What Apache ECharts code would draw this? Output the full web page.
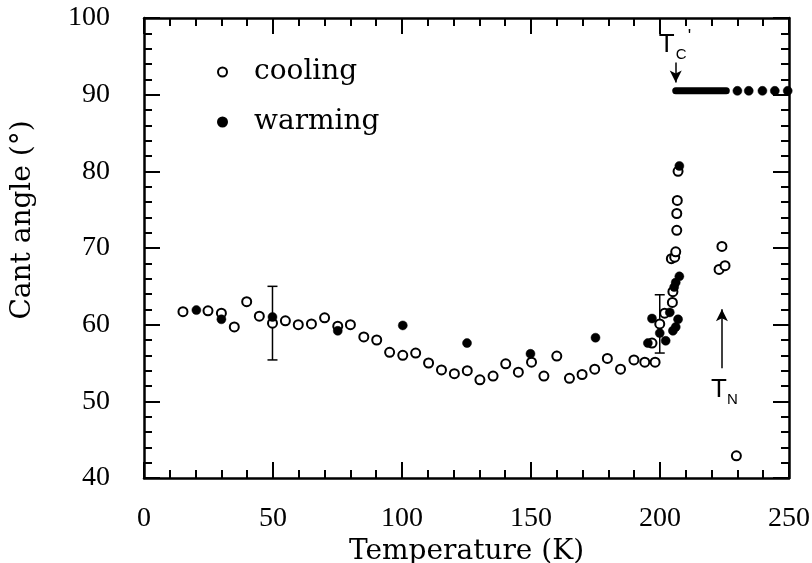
<!DOCTYPE html>
<html><head><meta charset="utf-8">
<script src="https://cdn.jsdelivr.net/npm/echarts@6/dist/echarts.min.js"></script>
<style>html,body{margin:0;padding:0;background:#fff}#c{width:812px;height:563px}</style>
</head><body><div id="c"></div>
<script>
// ---- data ----
const coolingT = [15.1,24.8,30.0,35.0,39.8,44.7,49.8,54.8,59.8,64.9,70.0,75.1,80.0,85.2,90.2,95.2,100.3,105.3,
  110.3,115.3,120.3,125.3,130.2,135.3,140.2,145.1,150.2,155.0,160.0,164.9,169.8,174.7,179.6,184.7,189.9,194.1,
  196.9,198.1,199.9,201.8,204.8,205.0,204.4,205.7,206.1,206.5,206.5,206.7,207.0,222.9,224.0,225.2,229.6];
const coolingAngle = [61.7,61.8,61.5,59.7,63.0,61.1,60.2,60.5,60.0,60.1,60.9,59.8,60.0,58.4,58.0,56.4,56.0,56.3,
  55.0,54.1,53.6,54.0,52.8,53.3,54.9,53.8,55.1,53.3,55.9,53.0,53.5,54.2,55.6,54.2,55.4,55.1,
  57.6,55.1,60.1,61.5,62.9,64.3,68.6,68.8,69.5,72.3,74.5,76.2,80.0,67.2,70.2,67.7,42.9];
const warmingT = [20.3,30.0,49.8,75.1,100.3,125.2,149.8,175.0,195.3,196.9,199.9,202.2,203.8,205.0,205.5,206.1,
  206.1,207.0,207.5,207.5,230.0,234.4,239.7,244.5,249.5];
const warmingAngle = [61.9,60.7,61.0,59.2,59.9,57.6,56.2,58.3,57.6,60.8,58.9,57.9,61.6,59.2,64.9,59.7,
  65.5,60.7,66.3,80.7,90.5,90.5,90.5,90.5,90.5];
const plateauT = [206.1, 225.7];
const plateauAngle = [90.5, 90.5];
const errT = [49.8, 199.9];
const errLow = [55.4, 56.3];
const errHigh = [65.0, 63.9];
const xTickValues = [0, 50, 100, 150, 200, 250];
const yTickValues = [40, 50, 60, 70, 80, 90, 100];
const seriesNames = ['cooling', 'warming'];
const xTitle = 'Temperature (K)';
const yTitle = 'Cant angle (°)';
// annotation anchors (data coordinates)
const tcArrow = {t: 206.1, from: 94.2, to: 91.6};
const tnArrow = {t: 224.0, from: 54.3, to: 62.0};

const zip = (a, b) => a.map((v, i) => [v, b[i]]);
const chart = echarts.init(document.getElementById('c'), null, {renderer: 'canvas'});

const tickCommon = {
  axisLine: {show: true, onZero: false, lineStyle: {color: '#000', width: 2.5}},
  axisTick: {show: true, inside: true, length: 16, lineStyle: {color: '#000', width: 2}},
  minorTick: {show: true, splitNumber: 5, length: 8, lineStyle: {color: '#000', width: 2}},
  splitLine: {show: false}, minorSplitLine: {show: false}
};
const xBase = {type: 'value', min: xTickValues[0], max: xTickValues[xTickValues.length-1], interval: 50};
const yBase = {type: 'value', min: yTickValues[0], max: yTickValues[yTickValues.length-1], interval: 10};
const serif = 'DejaVu Serif';

chart.setOption({
  animation: false,
  backgroundColor: '#fff',
  grid: {left: 144, right: 23, top: 18, bottom: 85, containLabel: false, outerBoundsMode: 'none'},
  legend: {
    data: seriesNames, orient: 'vertical', left: 212, top: 52, itemWidth: 9, itemHeight: 9, itemGap: 20,
    textStyle: {fontFamily: serif, fontSize: 28, color: '#000', padding: [0, 0, 0, 22], lineHeight: 30}
  },
  xAxis: [
    Object.assign({}, xBase, tickCommon, {position: 'bottom',
      axisLabel: {show: true, margin: 27, fontFamily: 'Liberation Serif', fontSize: 28, color: '#000'},
      name: xTitle, nameLocation: 'middle', nameGap: 46,
      nameTextStyle: {fontFamily: serif, fontSize: 28, color: '#000'}}),
    Object.assign({}, xBase, tickCommon, {position: 'top', axisLabel: {show: false}})
  ],
  yAxis: [
    Object.assign({}, yBase, tickCommon, {position: 'left',
      axisLabel: {show: true, margin: 34, fontFamily: 'Liberation Serif', fontSize: 28, color: '#000'}}),
    Object.assign({}, yBase, tickCommon, {position: 'right', axisLabel: {show: false}})
  ],
  series: [
    {
      type: 'custom', name: 'errors', silent: true, z: 2,
      data: errT.map((t, i) => [t, errLow[i], errHigh[i]]),
      encode: {x: 0, y: [1, 2]},
      renderItem: function (params, api) {
        const lo = api.coord([api.value(0), api.value(1)]);
        const hi = api.coord([api.value(0), api.value(2)]);
        const w = 5, st = {stroke: '#000', lineWidth: 1.5};
        return {type: 'group', children: [
          {type: 'line', shape: {x1: lo[0], y1: lo[1], x2: hi[0], y2: hi[1]}, style: st},
          {type: 'line', shape: {x1: lo[0]-w, y1: lo[1], x2: lo[0]+w, y2: lo[1]}, style: st},
          {type: 'line', shape: {x1: hi[0]-w, y1: hi[1], x2: hi[0]+w, y2: hi[1]}, style: st}
        ]};
      }
    },
    {
      type: 'scatter', name: seriesNames[0], data: zip(coolingT, coolingAngle), symbol: 'circle', symbolSize: 9,
      itemStyle: {color: '#fff', borderColor: '#000', borderWidth: 2, opacity: 1}, z: 3
    },
    {
      type: 'scatter', name: seriesNames[1], data: zip(warmingT, warmingAngle), symbol: 'circle', symbolSize: 9,
      itemStyle: {color: '#000', borderColor: '#000', borderWidth: 0.5, opacity: 1}, z: 4
    },
    {
      type: 'line', name: 'plateau', data: zip(plateauT, plateauAngle), showSymbol: false, symbol: 'none',
      lineStyle: {color: '#000', width: 7, cap: 'round'}, z: 4, silent: true,
      markLine: {
        silent: true, symbol: ['none', 'arrow'], symbolSize: [9, 12],
        lineStyle: {color: '#000', width: 1.5, type: 'solid'}, label: {show: false},
        data: [
          [{coord: [tcArrow.t, tcArrow.from]}, {coord: [tcArrow.t, tcArrow.to]}],
          [{coord: [tnArrow.t, tnArrow.from]}, {coord: [tnArrow.t, tnArrow.to]}]
        ]
      }
    }
  ]
});

const tc = chart.convertToPixel({gridIndex: 0}, [tcArrow.t, tcArrow.from]);
const tn = chart.convertToPixel({gridIndex: 0}, [tnArrow.t, tnArrow.from]);
const sans = '"Liberation Sans"';
chart.setOption({
  graphic: [
    {type: 'text', x: 23, y: 220, rotation: Math.PI / 2,
      style: {text: yTitle, font: '28px "DejaVu Serif"', fill: '#000', textAlign: 'center', textVerticalAlign: 'middle'}},
    {type: 'text', x: tc[0] - 17, y: tc[1] - 31, style: {text: 'T', font: '26px ' + sans, fill: '#000', textVerticalAlign: 'top'}},
    {type: 'text', x: tc[0] + 0, y: tc[1] - 15, style: {text: 'C', font: '15px ' + sans, fill: '#000', textVerticalAlign: 'top'}},
    {type: 'text', x: tc[0] + 12, y: tc[1] - 34, style: {text: '\'', font: '18px ' + sans, fill: '#000', textVerticalAlign: 'top'}},
    {type: 'text', x: tn[0] - 11, y: tn[1] + 8, style: {text: 'T', font: '26px ' + sans, fill: '#000', textVerticalAlign: 'top'}},
    {type: 'text', x: tn[0] + 5, y: tn[1] + 24, style: {text: 'N', font: '15px ' + sans, fill: '#000', textVerticalAlign: 'top'}}
  ]
});
</script>
</body></html>
